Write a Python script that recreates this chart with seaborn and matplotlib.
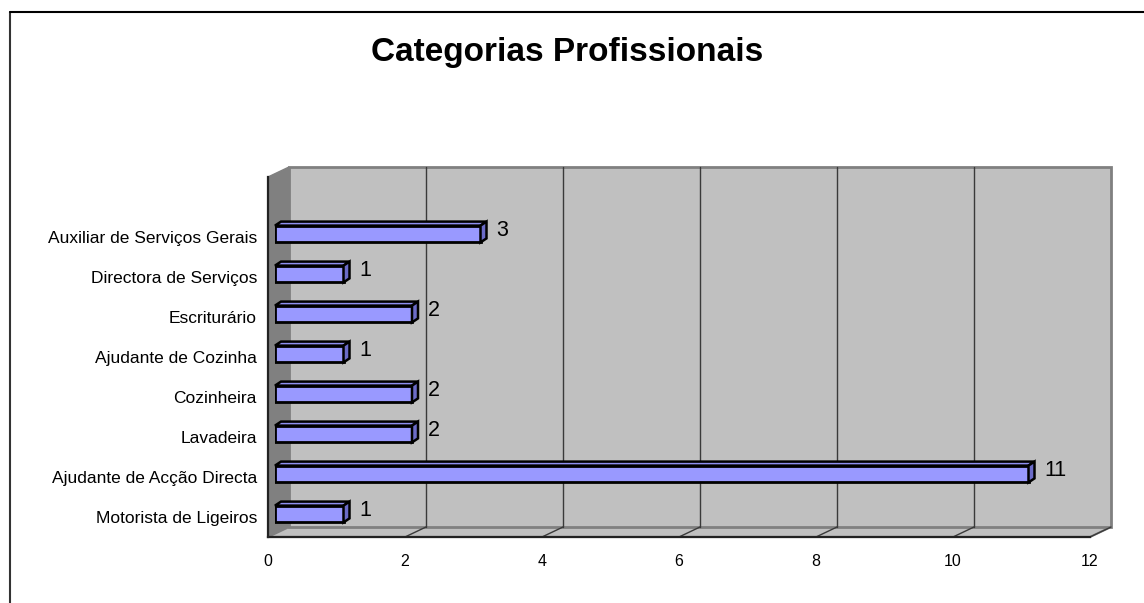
import matplotlib
matplotlib.use("Agg")
import matplotlib.pyplot as plt
import seaborn as sns
import pandas as pd
from matplotlib.patches import Polygon, Rectangle
from matplotlib.lines import Line2D

# ---------------- data ----------------
categories = ["Auxiliar de Serviços Gerais", "Directora de Serviços", "Escriturário",
              "Ajudante de Cozinha", "Cozinheira", "Lavadeira",
              "Ajudante de Acção Directa", "Motorista de Ligeiros"]
values = [3, 1, 2, 1, 2, 2, 11, 1]
x_ticks = [0, 2, 4, 6, 8, 10, 12]
title = "Categorias Profissionais"

df = pd.DataFrame({"categoria": categories, "n": values})

# ---------------- setup ----------------
W, H = 1144, 603
sns.set_theme(style="white")
plt.rcParams["font.family"] = ["Liberation Sans", "DejaVu Sans"]
fig = plt.figure(figsize=(W / 100, H / 100), dpi=100)

# front plot box in pixels
x0, x1 = 268, 1090
ybot, ytop = 537, 177
ux = (x1 - x0) / 12.0        # px per value unit
uy = (ybot - ytop) / 9.0     # px per category slot
YLIM = (7.5, -1.5)

ax = fig.add_axes([x0 / W, 1 - ybot / H, (x1 - x0) / W, (ybot - ytop) / H])
ax.set_xlim(0, 12)
ax.set_ylim(*YLIM)
ax.patch.set_alpha(0)

# wall depth
dx = 21 / ux
dy = 10 / uy
wall_gray = "#C0C0C0"
side_gray = "#808080"
edge_gray = "#808080"

# left side wall
ax.add_patch(Polygon([(0, 7.5), (0, -1.5), (dx, -1.5 - dy), (dx, 7.5 - dy)],
                     closed=True, facecolor=side_gray, edgecolor=side_gray,
                     lw=1, clip_on=False, zorder=0))
# floor
ax.add_patch(Polygon([(0, 7.5), (12, 7.5), (12 + dx, 7.5 - dy), (dx, 7.5 - dy)],
                     closed=True, facecolor=wall_gray, edgecolor=edge_gray,
                     lw=1.5, clip_on=False, zorder=0))
# back wall
ax.add_patch(Rectangle((dx, 7.5 - dy), 12, -9, facecolor=wall_gray,
                       edgecolor=edge_gray, lw=2, clip_on=False, zorder=0.1))
# gridlines on back wall and floor
for t in x_ticks[1:-1]:
    ax.add_line(Line2D([t + dx, t + dx], [-1.5 - dy, 7.5 - dy], color="#3a3a3a",
                       lw=1, clip_on=False, zorder=0.2))
for t in x_ticks[1:]:
    ax.add_line(Line2D([t, t + dx], [7.5, 7.5 - dy], color="#3a3a3a",
                       lw=1, clip_on=False, zorder=0.2))

# axes styling
for s in ["top", "right"]:
    ax.spines[s].set_visible(False)
for s in ["left", "bottom"]:
    ax.spines[s].set_color("#222222")
    ax.spines[s].set_linewidth(1.6)
    ax.spines[s].set_zorder(3)
ax.set_xticks(x_ticks)
ax.set_xticklabels([str(t) for t in x_ticks], fontsize=11.5)
ax.tick_params(axis="x", direction="out", length=5, width=1, color="#222222",
               pad=7, labelcolor="black")
ax.set_yticks(range(len(categories)))
ax.set_yticklabels(categories, fontsize=12.5)
ax.tick_params(axis="y", which="major", length=0, pad=8, labelcolor="black")
ax.set_yticks([i - 0.5 for i in range(-1, len(categories) + 1)], minor=True)
ax.tick_params(axis="y", which="minor", direction="out", length=7, width=1.2,
               color="#222222")
ax.set_xlabel("")
ax.set_ylabel("")

# ---------------- bars (mid-depth, offset axes) ----------------
bx, by = 7, 3
axb = fig.add_axes([(x0 + bx) / W, 1 - ybot / H + by / H, (x1 - x0) / W, (ybot - ytop) / H])
sns.barplot(data=df, y="categoria", x="n", order=categories, orient="h",
            color="#9999FF", saturation=1, width=0.42, edgecolor="black",
            linewidth=2, ax=axb)
axb.set_xlim(0, 12)
axb.set_ylim(*YLIM)
axb.axis("off")
axb.patch.set_alpha(0)

ddx = 6 / ux
ddy = 4 / uy
for p, v in zip(list(axb.patches), values):
    x, y, w, h = p.get_x(), p.get_y(), p.get_width(), p.get_height()
    yt = min(y, y + h)
    yb = max(y, y + h)
    top = Polygon([(x, yt), (x + w, yt), (x + w + ddx, yt - ddy), (x + ddx, yt - ddy)],
                  closed=True, facecolor="#8F8FF0", edgecolor="black", lw=1.8,
                  clip_on=False, zorder=3)
    side = Polygon([(x + w, yt), (x + w, yb), (x + w + ddx, yb - ddy), (x + w + ddx, yt - ddy)],
                   closed=True, facecolor="#6B6BC8", edgecolor="black", lw=1.8,
                   clip_on=False, zorder=3)
    axb.add_patch(top)
    axb.add_patch(side)
    axb.annotate(str(v), xy=(x + w + ddx, (yt + yb) / 2), xytext=(10, 4),
                 textcoords="offset pixels", ha="left", va="center",
                 fontsize=15.5, color="black", annotation_clip=False)

# ---------------- title and frame ----------------
fig.text(567 / W, 1 - 52 / H, title, ha="center", va="center",
         fontsize=24, fontweight="bold", color="black")
fig.add_artist(Line2D([10 / W, 10 / W], [0, 1 - 12 / H], transform=fig.transFigure,
                      color="#333333", lw=1.5))
fig.add_artist(Line2D([10 / W, 1], [1 - 12 / H, 1 - 12 / H], transform=fig.transFigure,
                      color="black", lw=1.5))

fig.savefig("out.png", dpi=100, facecolor="white")
